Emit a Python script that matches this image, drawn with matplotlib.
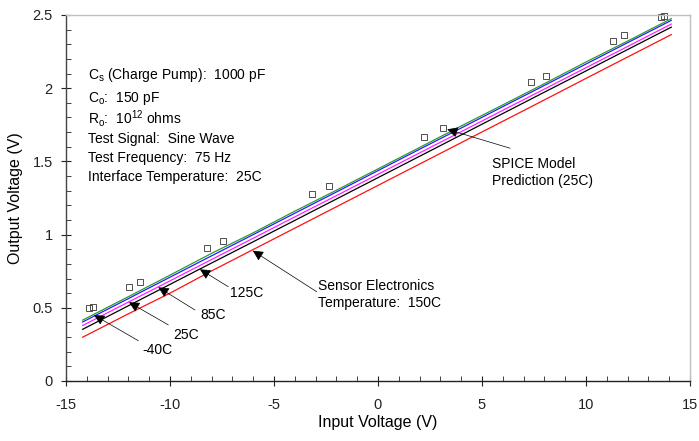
import matplotlib
matplotlib.use("Agg")
import matplotlib.pyplot as plt
from matplotlib.ticker import MultipleLocator, FormatStrFormatter

plt.rcParams['font.family'] = ['Liberation Sans', 'DejaVu Sans']
plt.rcParams['mathtext.default'] = 'regular'
plt.rcParams['axes.unicode_minus'] = False

# input voltage sweep (V)
vin = [-14.2, -12, -10, -8, -6, -4, -2, 0, 2, 4, 6, 8, 10, 12, 14.1]

# sensor electronics output at each temperature (V)
out_m40 = [0.416, 0.576, 0.723, 0.872, 1.012, 1.160, 1.303, 1.449, 1.595, 1.742, 1.886, 2.031, 2.179, 2.322, 2.475]
out_25 = [0.403, 0.563, 0.709, 0.855, 1.000, 1.146, 1.291, 1.437, 1.583, 1.728, 1.874, 2.019, 2.165, 2.311, 2.463]
out_85 = [0.379, 0.539, 0.684, 0.830, 0.975, 1.121, 1.266, 1.412, 1.558, 1.703, 1.849, 1.994, 2.140, 2.285, 2.438]
out_125 = [0.353, 0.514, 0.660, 0.806, 0.951, 1.097, 1.243, 1.389, 1.535, 1.681, 1.827, 1.973, 2.118, 2.264, 2.417]
out_150 = [0.299, 0.459, 0.600, 0.752, 0.898, 1.044, 1.190, 1.336, 1.482, 1.628, 1.774, 1.920, 2.067, 2.213, 2.366]

# SPICE model prediction points (25C)
spice_x = [-13.88, -13.69, -11.97, -11.44, -8.24, -7.47, -3.17, -2.36,
           2.21, 3.14, 7.34, 8.08, 11.31, 11.83, 13.59, 13.76]
spice_y = [0.497, 0.503, 0.640, 0.674, 0.906, 0.956, 1.277, 1.332,
           1.669, 1.726, 2.040, 2.083, 2.320, 2.363, 2.488, 2.495]

info_lines = [
    'C$_s$ (Charge Pump):  1000 pF',
    'C$_o$:  150 pF',
    'R$_o$:  10$^{12}$ ohms',
    'Test Signal:  Sine Wave',
    'Test Frequency:  75 Hz',
    'Interface Temperature:  25C',
]

fig = plt.figure(figsize=(6.99, 4.41), dpi=100)
ax = fig.add_axes([66 / 699, 60 / 441, 624 / 699, 366 / 441])

ax.plot(vin, out_150, color='#ff1010', lw=0.9)
ax.plot(vin, out_125, color='black', lw=0.9)
ax.plot(vin, out_85, color='#ff20ff', lw=0.9)
ax.plot(vin, out_25, color='#2020ff', lw=0.9)
ax.plot(vin, out_m40, color='#2e9a2e', lw=0.9)
ax.plot(spice_x, spice_y, ls='none', marker='s', ms=4, mfc='none',
        mec='#333333', mew=0.6, clip_on=False)

ax.set_xlim(-15, 15)
ax.set_ylim(0, 2.5)
ax.xaxis.set_major_locator(MultipleLocator(5))
ax.xaxis.set_minor_locator(MultipleLocator(1))
ax.yaxis.set_major_locator(MultipleLocator(0.5))
ax.yaxis.set_minor_locator(MultipleLocator(0.1))
ax.yaxis.set_major_formatter(FormatStrFormatter('%g'))
ax.tick_params(which='major', direction='inout', length=7, width=0.8,
               labelsize=10.5, colors='#222222')
ax.tick_params(axis='x', which='major', pad=9)
ax.tick_params(axis='y', which='major', pad=6)
ax.tick_params(which='minor', direction='in', length=3.5, width=0.7,
               colors='#444444')

ax.spines['left'].set_color('#444444')
ax.spines['bottom'].set_color('#222222')
ax.spines['top'].set_color('#c0c0c0')
ax.spines['right'].set_color('#c0c0c0')
for s in ax.spines.values():
    s.set_linewidth(1.0)

ax.set_xlabel('Input Voltage (V)', fontsize=11.5, labelpad=2)
ax.set_ylabel('Output Voltage (V)', fontsize=11.5, labelpad=7)

# test conditions block
info_y = [2.090, 1.933, 1.790, 1.653, 1.523, 1.393]
for txt, yy in zip(info_lines, info_y):
    ax.text(-13.94, yy, txt, fontsize=10, va='center', ha='left')

arrow = dict(arrowstyle='-|>', color='black', lw=0.5, mutation_scale=16,
             shrinkA=0, shrinkB=0)

# temperature callouts
ax.annotate('', xy=(-13.65, 0.45), xytext=(-11.52, 0.275), arrowprops=arrow)
ax.text(-11.33, 0.212, '-40C', fontsize=10, va='center', ha='left')
ax.annotate('', xy=(-11.97, 0.538), xytext=(-10.08, 0.383), arrowprops=arrow)
ax.text(-9.84, 0.314, '25C', fontsize=10, va='center', ha='left')
ax.annotate('', xy=(-10.56, 0.64), xytext=(-8.80, 0.485), arrowprops=arrow)
ax.text(-8.52, 0.45, '85C', fontsize=10, va='center', ha='left')
ax.annotate('', xy=(-8.56, 0.763), xytext=(-7.20, 0.644), arrowprops=arrow)
ax.text(-7.12, 0.603, '125C', fontsize=10, va='center', ha='left')
ax.annotate('', xy=(-6.02, 0.89), xytext=(-2.95, 0.61), arrowprops=arrow)
ax.text(-2.88, 0.59, 'Sensor Electronics\nTemperature:  150C', fontsize=10,
        va='center', ha='left', linespacing=1.3)

# SPICE callout
ax.annotate('', xy=(3.33, 1.719), xytext=(6.35, 1.59), arrowprops=arrow)
ax.text(5.47, 1.424, 'SPICE Model\nPrediction (25C)', fontsize=10,
        va='center', ha='left', linespacing=1.3)

fig.savefig('out.png', dpi=100)
